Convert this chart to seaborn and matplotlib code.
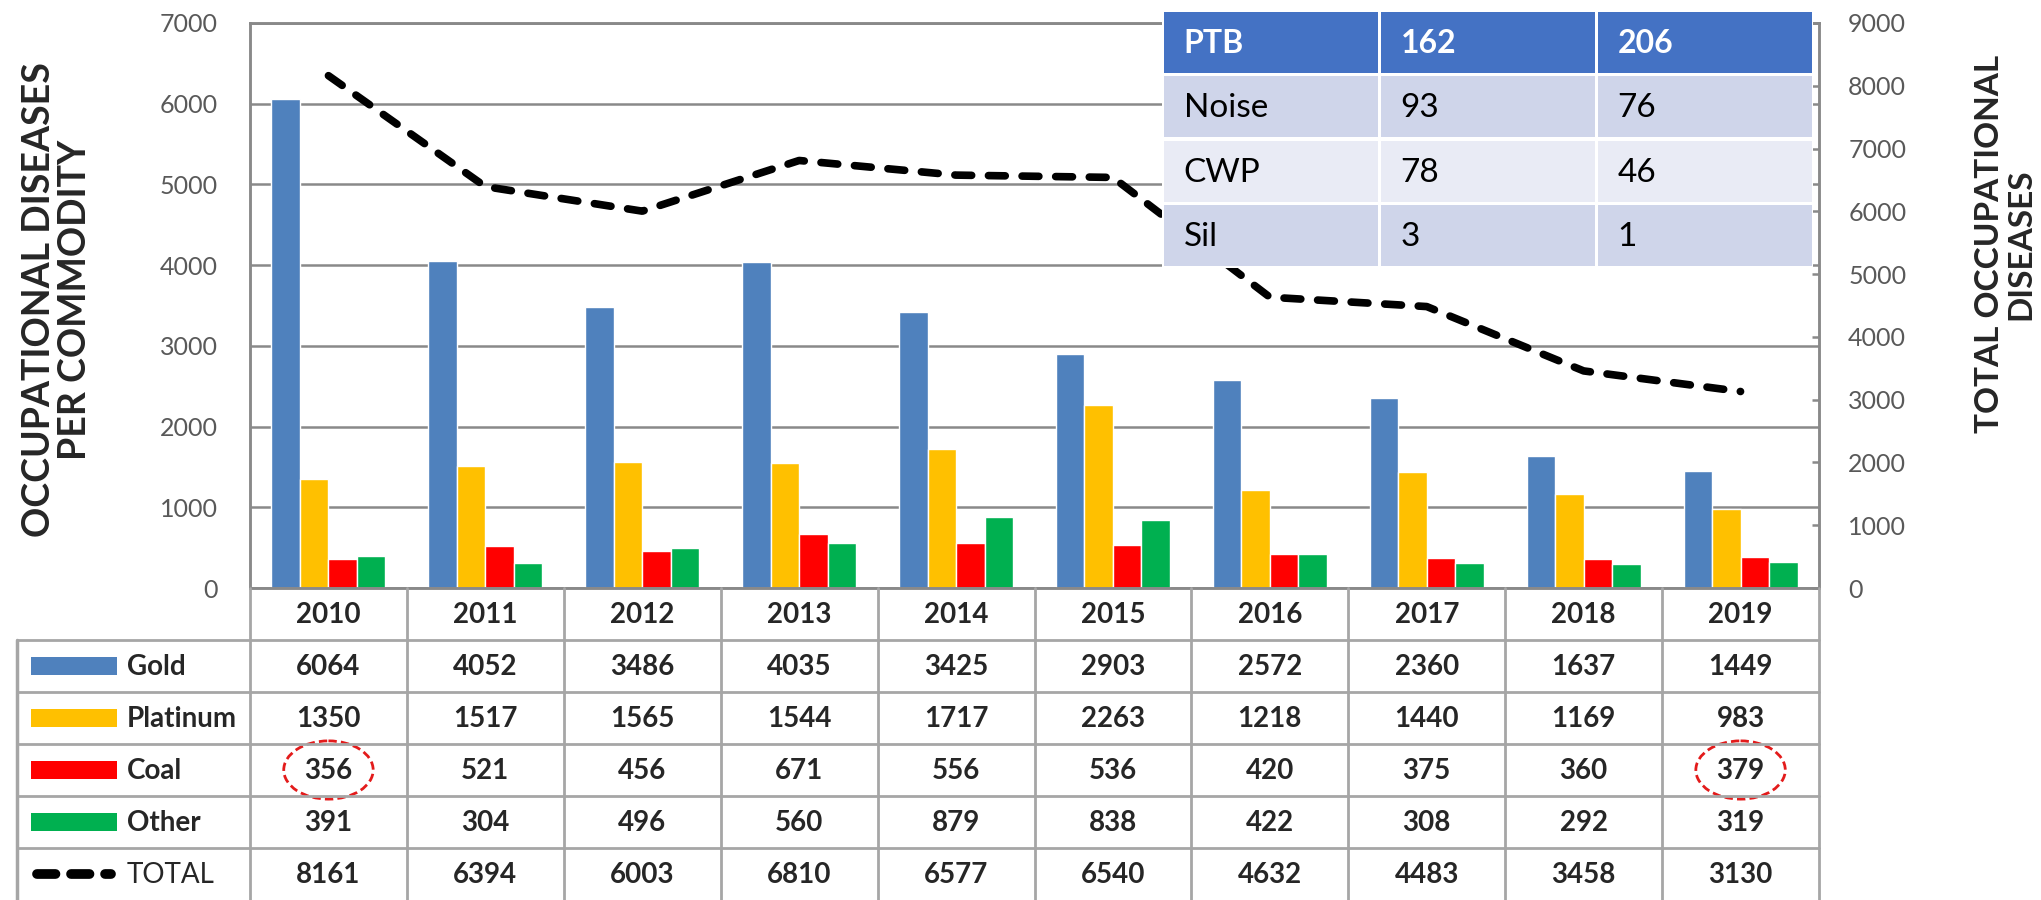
import numpy as np
import pandas as pd
import matplotlib
matplotlib.use("Agg")
import matplotlib.pyplot as plt
import seaborn as sns
from matplotlib.patches import Rectangle, Ellipse

# ---------------- data ----------------
years = ["2010", "2011", "2012", "2013", "2014", "2015", "2016", "2017", "2018", "2019"]
gold = [6064, 4052, 3486, 4035, 3425, 2903, 2572, 2360, 1637, 1449]
platinum = [1350, 1517, 1565, 1544, 1717, 2263, 1218, 1440, 1169, 983]
coal = [356, 521, 456, 671, 556, 536, 420, 375, 360, 379]
other = [391, 304, 496, 560, 879, 838, 422, 308, 292, 319]
total = [8161, 6394, 6003, 6810, 6577, 6540, 4632, 4483, 3458, 3130]
commodities = ["Gold", "Platinum", "Coal", "Other"]
colors = ["#4F81BD", "#FFC000", "#FF0000", "#00B050"]
left_ticks = list(range(0, 7001, 1000))
right_ticks = list(range(0, 9001, 1000))
highlight_years = ["2010", "2019"]
inset_header = ["PTB", "162", "206"]
inset_labels = ["Noise", "CWP", "Sil"]
inset_162 = [93, 78, 3]
inset_206 = [76, 46, 1]

series = [gold, platinum, coal, other]
df = pd.DataFrame({
    "Year": np.repeat([years], len(commodities), axis=0).ravel(),
    "Commodity": np.repeat(commodities, len(years)),
    "Value": np.concatenate(series),
})

# ---------------- style ----------------
sns.set_style("white")
plt.rcParams["font.family"] = ["Lato", "DejaVu Sans"]
GRID = "#898989"
TLINE = "#A6A6A6"
TICKC = "#595959"

W, H = 2041, 900
fig = plt.figure(figsize=(W / 100, H / 100), dpi=100)


def fr(x0, y0, x1, y1):
    return [x0 / W, 1 - y1 / H, (x1 - x0) / W, (y1 - y0) / H]


# ---------------- main chart ----------------
ax = fig.add_axes(fr(250, 23, 1819, 588))
sns.barplot(data=df, x="Year", y="Value", hue="Commodity", order=years,
            hue_order=commodities, palette=colors, saturation=1, width=0.727,
            gap=0, ax=ax, legend=False)
ax.set_xlim(-0.5, len(years) - 0.5)
ax.set_ylim(0, 7000)
ax.set_yticks(left_ticks)
ax.set_xlabel("")
ax.set_ylabel("")
ax.yaxis.grid(True, color=GRID, lw=1.8)
ax.set_axisbelow(True)
ax.tick_params(axis="y", length=0, pad=23, labelsize=18, labelcolor=TICKC)
ax.tick_params(axis="x", length=0, labelbottom=False)
for s in ax.spines.values():
    s.set_color(GRID)
    s.set_linewidth(1.8)

ax2 = ax.twinx()
sns.lineplot(x=np.arange(len(years)), y=total, ax=ax2, color="black",
             lw=5.5, linestyle=(0, (2.2, 2.2)), legend=False)
for ln in ax2.lines:
    ln.set_dash_capstyle("round")
ax2.set_xlim(-0.5, len(years) - 0.5)
ax2.set_ylim(0, 9000)
ax2.set_yticks(right_ticks)
ax2.set_ylabel("")
ax2.tick_params(axis="y", direction="in", length=5, width=1.8, color=GRID,
                pad=21, labelsize=18, labelcolor=TICKC)
for s in ax2.spines.values():
    s.set_color(GRID)
    s.set_linewidth(1.8)

# ---------------- data table below ----------------
unit = (1819 - 250) / len(years)
xleft = -0.5 - (250 - 17) / unit
tax = fig.add_axes(fr(17, 588, 1819, 900))
tax.set_xlim(xleft, len(years) - 0.5)
tax.set_ylim(6, 0)
tax.axis("off")

for i in range(len(years) + 1):
    tax.plot([i - 0.5, i - 0.5], [0, 6], color=TLINE, lw=2, clip_on=False)
tax.plot([xleft, xleft], [1, 6], color=TLINE, lw=2.5, clip_on=False)
for r in range(1, 6):
    tax.plot([xleft, len(years) - 0.5], [r, r], color=TLINE, lw=2, clip_on=False)

for i, y in enumerate(years):
    tax.text(i, 0.52, y, ha="center", va="center", fontsize=20, fontweight="bold")
for r, vals in enumerate(series + [total]):
    for i, v in enumerate(vals):
        tax.text(i, r + 1.52, str(v), ha="center", va="center", fontsize=20,
                 fontweight="bold")

key_x0 = xleft + 14 / unit
key_x1 = xleft + 100 / unit
lab_x = xleft + 110 / unit
for r, (name, c) in enumerate(zip(commodities, colors)):
    tax.add_patch(Rectangle((key_x0, r + 1.5 - 0.18), key_x1 - key_x0, 0.36,
                            facecolor=c, edgecolor="none"))
    tax.text(lab_x, r + 1.52, name, ha="left", va="center", fontsize=20,
             fontweight="bold")
tax.plot([key_x0 + 0.04, key_x1 - 0.04], [5.5, 5.5], color="black", lw=7,
         linestyle=(0, (1.9, 1.6)), dash_capstyle="round")
tax.text(lab_x, 5.52, "TOTAL", ha="left", va="center", fontsize=20)

coal_row = 1 + commodities.index("Coal") + 0.5
for y in highlight_years:
    i = years.index(y)
    tax.add_patch(Ellipse((i, coal_row), 0.57, 1.12, fill=False,
                          edgecolor="#E31B1B", lw=2, linestyle=(0, (3, 1.5))))

# ---------------- inset table ----------------
iax = fig.add_axes(fr(1162, 10, 1813, 268))
iax.set_zorder(10)
iax.set_xlim(0, 3)
iax.set_ylim(4, 0)
iax.axis("off")
iax.add_patch(Rectangle((0, 0), 3, 4, facecolor="white", edgecolor="none"))
gx = 1.5 / 217
gy = 1.5 / 64.5
row_colors = ["#4472C4", "#CFD5EA", "#E9EBF5", "#CFD5EA"]
cells = [inset_header] + [[lab, str(a), str(b)] for lab, a, b in
                          zip(inset_labels, inset_162, inset_206)]
for r, row in enumerate(cells):
    for c, txt in enumerate(row):
        iax.add_patch(Rectangle((c + gx, r + gy), 1 - 2 * gx, 1 - 2 * gy,
                                facecolor=row_colors[r], edgecolor="none"))
        if r == 0:
            iax.text(c + 0.1, r + 0.52, txt, ha="left", va="center",
                     fontsize=23, fontweight="bold", color="white")
        else:
            iax.text(c + 0.1, r + 0.52, txt, ha="left", va="center",
                     fontsize=24, color="black")

# ---------------- axis titles ----------------
fig.text(57 / W, 1 - 300 / H, "OCCUPATIONAL DISEASES\nPER COMMODITY",
         rotation=90, ha="center", va="center", fontsize=27, fontweight="bold",
         multialignment="center", linespacing=1.05)
fig.text(2005 / W, 1 - 244 / H, "TOTAL OCCUPATIONAL\nDISEASES",
         rotation=90, ha="center", va="center", fontsize=24, fontweight="bold",
         multialignment="center", linespacing=1.1)

fig.savefig("out.png", dpi=100)
